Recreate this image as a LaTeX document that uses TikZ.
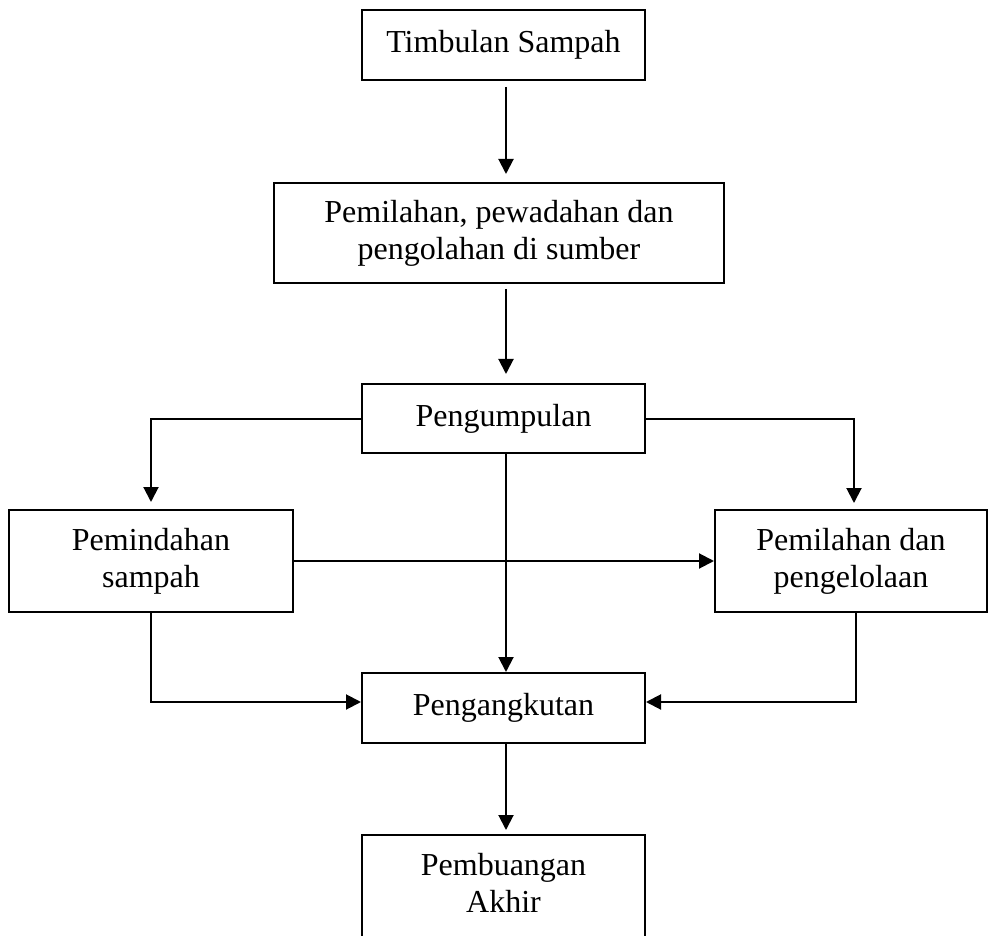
\documentclass[tikz,border=0pt]{standalone}
\usepackage{fontspec}
\setmainfont{Liberation Serif}
\usetikzlibrary{arrows.meta}
\begin{document}
\begin{tikzpicture}[x=1pt,y=-1pt,
  font=\fontsize{32}{37}\selectfont,
  box/.style={draw, line width=2pt, align=center, inner sep=0pt},
  arr/.style={line width=2pt, -{Triangle[length=15pt,width=15pt]}}]
\useasboundingbox (0,0) rectangle (989,936);
\clip (0,0) rectangle (989,936);
\node[box, minimum width=283, minimum height=70] (b1) at (503.5,45) {Timbulan Sampah};
\node[box, minimum width=450, minimum height=100] (b2) at (499,233) {Pemilahan, pewadahan dan\\pengolahan di sumber};
\node[box, minimum width=283, minimum height=69] (b3) at (503.5,418.5) {Pengumpulan};
\node[box, minimum width=284, minimum height=102] (b4) at (151,561) {Pemindahan\\sampah};
\node[box, minimum width=272, minimum height=102] (b5) at (851,561) {Pemilahan dan\\pengelolaan};
\node[box, minimum width=283, minimum height=70] (b6) at (503.5,708) {Pengangkutan};
\node[box, minimum width=283, minimum height=140, anchor=north] (b7) at (503.5,834) {};
\node[align=center, inner sep=0pt, anchor=north] (b7t) at (503.5,853) {Pembuangan\\Akhir};
\coordinate (c1) at (506,87);
\coordinate (c2) at (506,289);
\draw[arr, shorten >=8pt] (c1) -- (c1 |- b2.north);
\draw[arr, shorten >=9pt] (c2) -- (c2 |- b3.north);
\draw[arr, shorten >=7pt] (b3.west) -| (b4.north);
\draw[arr, shorten >=6pt] (b3.east) -| ([xshift=3pt]b5.north);
\draw[arr] (b3.south -| c1) -- (c1 |- b6.north);
\draw[arr] (b4.east) -- (b4.east -| b5.west);
\draw[arr] (b4.south) |- ([yshift=6pt]b6.west);
\draw[arr] ([xshift=5pt]b5.south) |- ([yshift=6pt]b6.east);
\draw[arr, shorten >=4pt] (b6.south -| c1) -- (c1 |- b7.north);
\end{tikzpicture}
\end{document}
